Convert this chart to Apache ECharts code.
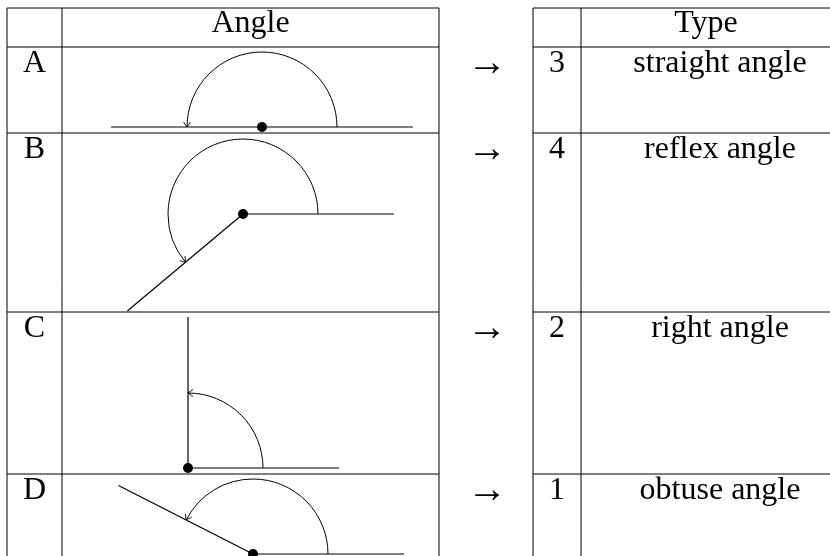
<!DOCTYPE html>
<html>
<head>
<meta charset="utf-8">
<script src="https://cdn.jsdelivr.net/npm/echarts@6/dist/echarts.min.js"></script>
<style>
  html, body { margin: 0; padding: 0; background: #fff; }
  #chart { width: 830px; height: 556px; }
</style>
</head>
<body>
<div id="chart"></div>
<script>
// data
const headers = ['Angle', 'Type'];
const rowLabels = ['A', 'B', 'C', 'D'];
const typeNumbers = [3, 4, 2, 1];
const typeNames = ['straight angle', 'reflex angle', 'right angle', 'obtuse angle'];
const angleDegrees = [180, 220, 90, 153];

// layout (pixel units, y downwards)
const rowLines = [8, 47, 133, 312, 474];
const leftCols = [7, 62, 439];
const rightCols = [533, 581, 831];
const vertices = [[262, 127], [243, 214], [188, 468], [253, 554]];
const rayLength = 151;
const arcRadius = 75;
const W = 830, H = 556;
const FONT = '32px "Liberation Serif", "DejaVu Serif", serif';
const ARROW_FONT = '40px "Liberation Serif", serif';

// table lines
const segments = [];
[leftCols, rightCols].forEach(cols => {
  rowLines.forEach(y => segments.push([cols[0], y, cols[cols.length - 1], y]));
  cols.forEach(x => segments.push([x, rowLines[0], x, H + 5]));
});

// texts: [x, y(middle), text, isArrow]
const texts = [];
texts.push([(leftCols[1] + leftCols[2]) / 2, 24, headers[0], 0]);
texts.push([706, 24, headers[1], 0]);
rowLabels.forEach((lab, i) => {
  const top = rowLines[i + 1];
  texts.push([(leftCols[0] + leftCols[1]) / 2, top + 16.5, lab, 0]);
  texts.push([(rightCols[0] + rightCols[1]) / 2, top + 16.5, String(typeNumbers[i]), 0]);
  texts.push([720, top + 16.5, typeNames[i], 0]);
  texts.push([487, top + 17, '→', 1]);
});

const chart = echarts.init(document.getElementById('chart'));

chart.setOption({
  animation: false,
  grid: { left: 0, right: 0, top: 0, bottom: 0 },
  xAxis: { type: 'value', min: 0, max: W, show: false },
  yAxis: { type: 'value', min: 0, max: H, inverse: true, show: false },
  series: [
    {
      type: 'custom',
      data: segments,
      silent: true,
      renderItem: (params, api) => {
        const p1 = api.coord([api.value(0), api.value(1)]);
        const p2 = api.coord([api.value(2), api.value(3)]);
        return {
          type: 'line',
          shape: { x1: p1[0], y1: p1[1], x2: p2[0], y2: p2[1] },
          style: { stroke: '#000', lineWidth: 1 }
        };
      }
    },
    {
      type: 'custom',
      data: angleDegrees.map((a, i) => [vertices[i][0], vertices[i][1], a]),
      silent: true,
      renderItem: (params, api) => {
        const c = api.coord([api.value(0), api.value(1)]);
        const t = api.value(2) * Math.PI / 180;
        const r = api.size([arcRadius, 0])[0];
        const L = api.size([rayLength, 0])[0];
        const cos = Math.cos(t), sin = Math.sin(t);
        // arrowhead at arc end (travel direction is counterclockwise on screen)
        const tip = [c[0] + r * cos, c[1] - r * sin];
        const back = [sin, cos];
        const nrm = [cos, -sin];
        const al = 5, aw = 3.5;
        const head = [
          [tip[0] + back[0] * al + nrm[0] * aw, tip[1] + back[1] * al + nrm[1] * aw],
          tip,
          [tip[0] + back[0] * al - nrm[0] * aw, tip[1] + back[1] * al - nrm[1] * aw]
        ];
        return {
          type: 'group',
          children: [
            {
              type: 'line',
              shape: { x1: c[0], y1: c[1], x2: c[0] + L, y2: c[1] },
              style: { stroke: '#000', lineWidth: 1.2 }
            },
            {
              type: 'line',
              shape: { x1: c[0], y1: c[1], x2: c[0] + L * cos, y2: c[1] - L * sin },
              style: { stroke: '#000', lineWidth: 1.2 }
            },
            {
              type: 'arc',
              shape: { cx: c[0], cy: c[1], r: r, startAngle: 0, endAngle: -t, clockwise: false },
              style: { stroke: '#000', fill: null, lineWidth: 1 }
            },
            {
              type: 'polyline',
              shape: { points: head },
              style: { stroke: '#000', fill: null, lineWidth: 0.9 }
            },
            {
              type: 'circle',
              shape: { cx: c[0], cy: c[1], r: 5 },
              style: { fill: '#000' }
            }
          ]
        };
      }
    },
    {
      type: 'custom',
      data: texts,
      silent: true,
      renderItem: (params, api) => {
        const p = api.coord([api.value(0), api.value(1)]);
        const item = texts[params.dataIndex];
        return {
          type: 'text',
          x: p[0],
          y: p[1],
          style: {
            text: item[2],
            font: item[3] ? ARROW_FONT : FONT,
            fill: '#000',
            align: 'center',
            verticalAlign: 'middle'
          }
        };
      }
    }
  ]
});
</script>
</body>
</html>
